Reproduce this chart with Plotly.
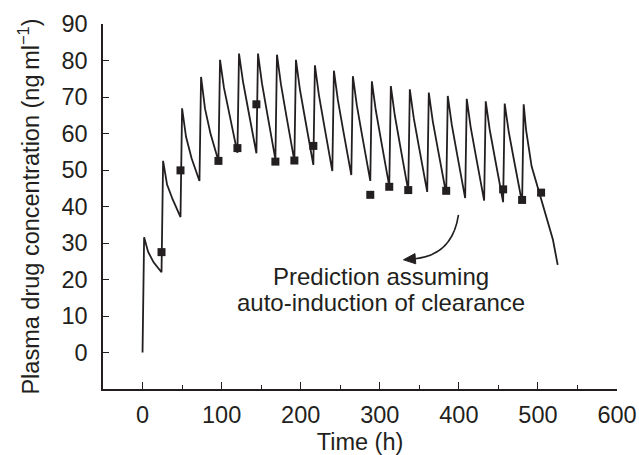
import plotly.graph_objects as go

# ---- data ----
dose_times = [0, 24, 48, 72, 96, 120, 144, 168, 192, 216, 240, 264, 288, 312,
              336, 360, 384, 408, 432, 456]
peaks = [31.6, 52.5, 66.9, 75.5, 80.2, 81.9, 81.9, 81.6, 80.2, 78.7, 77.2, 75.7,
         74.3, 73.0, 72.1, 71.2, 70.3, 69.5, 68.8, 68.2]
at7h = [27.6, 46.0, 59.1, 66.8, 72.5, 74.3, 73.8, 73.5, 72.1, 70.6, 69.2, 67.7,
        66.3, 65.0, 64.2, 63.4, 62.5, 61.7, 61.1, 60.6]
at14h = [24.7, 42.0, 53.2, 59.9, 64.9, 66.1, 65.1, 64.7, 63.5, 61.9, 60.6, 59.1,
         57.7, 56.4, 55.8, 55.1, 54.1, 53.3, 52.8, 52.4]
troughs = [22.0, 37.1, 47.0, 52.5, 54.7, 54.6, 52.9, 52.5, 51.4, 49.7, 48.6, 47.0,
           45.6, 44.3, 44.0, 43.5, 42.3, 41.6, 41.2, 41.0]
# last dose (480 h) and wash-out
tail_t = [482, 485, 492, 503, 519, 525]
tail_c = [68.0, 61.0, 51.0, 42.7, 30.9, 24.0]

obs_t = [24, 48, 96, 120, 144, 168, 192, 216, 288, 312, 336, 384, 456, 480, 504]
obs_c = [27.5, 49.9, 52.5, 56.0, 68.0, 52.3, 52.6, 56.6, 43.2, 45.4, 44.5, 44.3,
         44.7, 41.8, 43.8]

# build the predicted profile
line_t = [0]
line_c = [0]
for d, p, a, b, tr in zip(dose_times, peaks, at7h, at14h, troughs):
    line_t += [d + 2, d + 7, d + 14, d + 24]
    line_c += [p, a, b, tr]
line_t += tail_t
line_c += tail_c

FONT = "Liberation Sans, Arial, sans-serif"
INK = "#231f20"

fig = go.Figure()
fig.add_trace(go.Scatter(x=line_t, y=line_c, mode="lines",
                         line=dict(color=INK, width=1.8), hoverinfo="skip"))
fig.add_trace(go.Scatter(x=obs_t, y=obs_c, mode="markers",
                         marker=dict(symbol="square", size=8, color=INK)))

# curved arrow pointing to the label
fig.add_shape(type="path", xref="x", yref="y",
              path="M 399.5,37.7 Q 392,26.8 345.2,25.7",
              line=dict(color=INK, width=1.6))
fig.add_shape(type="path", xref="x", yref="y",
              path="M 330,25.4 L 345.5,24.3 L 344.5,27.1 Z",
              line=dict(color=INK, width=1), fillcolor=INK)
fig.add_annotation(x=302, y=20.8, xref="x", yref="y", showarrow=False,
                   text="Prediction assuming",
                   font=dict(family=FONT, size=24, color=INK))
fig.add_annotation(x=302, y=13.6, xref="x", yref="y", showarrow=False,
                   text="auto-induction of clearance",
                   font=dict(family=FONT, size=24, color=INK))

fig.update_layout(
    width=639, height=455,
    margin=dict(l=103, r=22, t=24, b=66),
    paper_bgcolor="white", plot_bgcolor="white",
    showlegend=False,
    font=dict(family=FONT, size=23.5, color=INK),
)
fig.update_xaxes(range=[-50, 600], tickvals=[0, 100, 200, 300, 400, 500, 600],
                 ticks="inside", ticklen=7, tickwidth=1.3, tickcolor=INK,
                 showline=True, linecolor=INK, linewidth=1.5,
                 showgrid=False, zeroline=False, automargin=False,
                 minor=dict(tickvals=[50, 150, 250, 350, 450, 550], ticks="inside",
                            ticklen=4, tickwidth=1.3, tickcolor=INK),
                 ticklabelstandoff=4,
                 title=dict(text="Time (h)", font=dict(size=23.5), standoff=8))
fig.update_yaxes(range=[-10, 90], tickvals=[0, 10, 20, 30, 40, 50, 60, 70, 80, 90],
                 ticks="inside", ticklen=6, tickwidth=1.3, tickcolor=INK,
                 showline=True, linecolor=INK, linewidth=1.5,
                 showgrid=False, zeroline=False, automargin=False,
                 ticklabelstandoff=9,
                 title=dict(text="Plasma drug concentration (ng\u2009ml<sup>\u22121</sup>)",
                            font=dict(size=23.5), standoff=15))

fig.write_html("out.html")
